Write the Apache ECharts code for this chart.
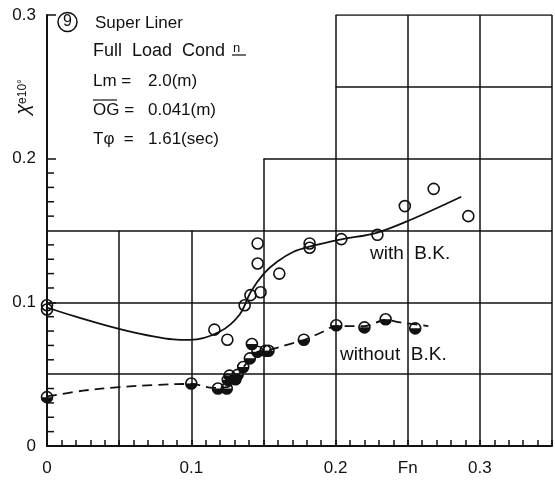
<!DOCTYPE html>
<html>
<head>
<meta charset="utf-8">
<script src="https://cdn.jsdelivr.net/npm/echarts@6/dist/echarts.min.js"></script>
<style>
  html, body { margin: 0; padding: 0; background: #fff; }
  #chart { width: 555px; height: 483px; }
</style>
</head>
<body>
<div id="chart"></div>
<script>
  // measured points, Fn vs χe10°
  var withBK = [
    [0, 0.098], [0, 0.095], [0.116, 0.081], [0.125, 0.074], [0.137, 0.098],
    [0.141, 0.105], [0.148, 0.107], [0.146, 0.127], [0.146, 0.141], [0.161, 0.120],
    [0.182, 0.141], [0.182, 0.138], [0.204, 0.144], [0.229, 0.147], [0.248, 0.167],
    [0.268, 0.179], [0.292, 0.160]
  ];
  var withoutBK = [
    [0, 0.034], [0.100, 0.0435], [0.1185, 0.040], [0.1246, 0.040], [0.1253, 0.046],
    [0.1306, 0.0465], [0.1265, 0.049], [0.1321, 0.0495], [0.136, 0.055], [0.1406, 0.061],
    [0.142, 0.071], [0.1458, 0.0656], [0.1515, 0.0663], [0.1535, 0.0663], [0.178, 0.074],
    [0.2005, 0.084], [0.22, 0.0826], [0.2347, 0.0882], [0.2552, 0.0819]
  ];
  // faired curves drawn through the points
  var withCurve = [
    [0, 0.0964], [0.02, 0.090], [0.0513, 0.0812], [0.0877, 0.0742], [0.0991, 0.0738],
    [0.1196, 0.0795], [0.1333, 0.0912], [0.1413, 0.1074], [0.1504, 0.1202], [0.1595, 0.1283],
    [0.1709, 0.1352], [0.1818, 0.1387], [0.2039, 0.1438], [0.2285, 0.1484], [0.2517, 0.1573],
    [0.2871, 0.1735]
  ];
  var withoutCurve = [
    [0, 0.0345], [0.025, 0.0385], [0.05, 0.041], [0.075, 0.0425], [0.1, 0.0432],
    [0.115, 0.0405], [0.125, 0.041], [0.131, 0.047], [0.136, 0.0545], [0.141, 0.061],
    [0.146, 0.0655], [0.153, 0.0665], [0.165, 0.070], [0.178, 0.0738], [0.19, 0.079],
    [0.2005, 0.0835], [0.22, 0.0835], [0.2347, 0.0877], [0.245, 0.086], [0.2643, 0.0835]
  ];
  // stepped grid: [y, xFrom, xTo] and [x, yFrom, yTo]
  var hGrid = [[0.05, 0, 0.35], [0.1, 0, 0.35], [0.15, 0, 0.35], [0.2, 0.15, 0.35], [0.25, 0.2, 0.35], [0.3, 0.2, 0.35]];
  var vGrid = [[0.05, 0, 0.15], [0.1, 0, 0.15], [0.15, 0, 0.2], [0.2, 0, 0.3], [0.25, 0, 0.3], [0.3, 0, 0.3], [0.35, 0, 0.3]];
  var xLabels = { 0: '0', 10: '0.1', 20: '0.2', 25: 'Fn', 30: '0.3' };
  var yLabels = { 0: '0', 10: '0.1', 20: '0.2', 30: '0.3' };
  var yMinorTicks = [0.01, 0.02, 0.03, 0.04, 0.06, 0.07, 0.08, 0.09, 0.11, 0.12, 0.13, 0.14, 0.16, 0.17, 0.18, 0.19];

  var ink = '#111';
  var font = 'Liberation Sans';

  var gridLines = [];
  hGrid.forEach(function (h) { gridLines.push({ coords: [[h[1], h[0]], [h[2], h[0]]] }); });
  vGrid.forEach(function (v) { gridLines.push({ coords: [[v[0], v[1]], [v[0], v[2]]] }); });

  function txt(x, y, s, size) {
    return { type: 'text', x: x, y: y, style: { text: s, font: size + 'px ' + font, fill: ink, verticalAlign: 'middle' } };
  }

  var myChart = echarts.init(document.getElementById('chart'));
  var option = {
    backgroundColor: '#fff',
    animation: false,
    grid: { left: 47, top: 15, width: 511, height: 431 },
    xAxis: {
      type: 'value', min: 0, max: 0.35, interval: 0.05,
      axisLine: { lineStyle: { color: ink, width: 2 } },
      axisTick: { inside: true, length: 6, lineStyle: { color: ink, width: 1.5 } },
      minorTick: { show: true, splitNumber: 5, length: 6, lineStyle: { color: ink, width: 1.5 } },
      splitLine: { show: false },
      axisLabel: {
        color: ink, fontSize: 17, fontFamily: font, margin: 14,
        formatter: function (v) { var k = Math.round(v * 100); return xLabels[k] || ''; }
      }
    },
    yAxis: {
      type: 'value', min: 0, max: 0.3, interval: 0.1,
      axisLine: { lineStyle: { color: ink, width: 2 } },
      axisTick: { inside: true, length: 9, lineStyle: { color: ink, width: 1.5 } },
      splitLine: { show: false },
      axisLabel: {
        color: ink, fontSize: 17, fontFamily: font, margin: 11,
        formatter: function (v) { var k = Math.round(v * 100); return yLabels[k] || ''; }
      }
    },
    graphic: [
      { type: 'circle', shape: { cx: 67.5, cy: 22, r: 9.5 }, style: { fill: 'none', stroke: ink, lineWidth: 1.5 } },
      { type: 'text', x: 67.5, y: 22, style: { text: '9', font: '16px ' + font, fill: ink, align: 'center', verticalAlign: 'middle' } },
      txt(95, 23, 'Super Liner', 17),
      txt(93, 51, 'Full  Load  Cond', 18),
      txt(233, 48, 'n', 13),
      { type: 'line', shape: { x1: 232, y1: 55, x2: 246, y2: 55 }, style: { stroke: ink, lineWidth: 1.2 } },
      txt(93, 81, 'Lm =', 17),
      txt(148, 81, '2.0(m)', 17),
      txt(93, 110, 'OG =', 17),
      { type: 'line', shape: { x1: 93, y1: 100, x2: 117, y2: 100 }, style: { stroke: ink, lineWidth: 1.2 } },
      txt(148, 110, '0.041(m)', 17),
      txt(93, 139, 'Tφ  =', 17),
      txt(148, 139, '1.61(sec)', 17),
      // y axis name, reads bottom to top
      {
        type: 'text', x: 23, y: 97, rotation: Math.PI / 2,
        style: {
          text: '{a|χ}{b|e10°}', fill: ink, align: 'center', verticalAlign: 'middle',
          rich: {
            a: { fontSize: 20, fontFamily: font, fontStyle: 'italic', fill: ink },
            b: { fontSize: 12, fontFamily: font, fill: ink }
          }
        }
      },
      txt(370, 254, 'with  B.K.', 19),
      txt(340, 355, 'without  B.K.', 19)
    ],
    series: [
      {
        // stepped grid
        type: 'lines', coordinateSystem: 'cartesian2d', silent: true, z: 1,
        lineStyle: { color: ink, width: 1.5, opacity: 1 },
        data: gridLines
      },
      {
        // y minor ticks, only the lower part of the axis
        type: 'custom', silent: true, z: 2,
        data: yMinorTicks.map(function (v) { return [0, v]; }),
        renderItem: function (params, api) {
          var p = api.coord([api.value(0), api.value(1)]);
          return { type: 'line', shape: { x1: p[0], y1: p[1], x2: p[0] + 7, y2: p[1] }, style: { stroke: ink, lineWidth: 1.5 } };
        }
      },
      {
        type: 'line', smooth: 0.35, showSymbol: false, z: 3,
        lineStyle: { color: ink, width: 1.8 },
        data: withCurve
      },
      {
        type: 'line', smooth: 0.35, showSymbol: false, z: 3,
        lineStyle: { color: ink, width: 1.8, type: [10, 6] },
        data: withoutCurve
      },
      {
        type: 'scatter', symbol: 'circle', symbolSize: 11, z: 4,
        itemStyle: { color: 'rgba(255,255,255,0)', borderColor: ink, borderWidth: 1.6, opacity: 1 },
        data: withBK
      },
      {
        // half filled circles
        type: 'custom', z: 5,
        data: withoutBK,
        renderItem: function (params, api) {
          var p = api.coord([api.value(0), api.value(1)]);
          return {
            type: 'group',
            children: [
              { type: 'sector', shape: { cx: p[0], cy: p[1], r0: 0, r: 5.5, startAngle: 0, endAngle: Math.PI, clockwise: true }, style: { fill: ink } },
              { type: 'circle', shape: { cx: p[0], cy: p[1], r: 5.5 }, style: { fill: 'none', stroke: ink, lineWidth: 1.6 } }
            ]
          };
        }
      }
    ]
  };
  myChart.setOption(option);
</script>
</body>
</html>
